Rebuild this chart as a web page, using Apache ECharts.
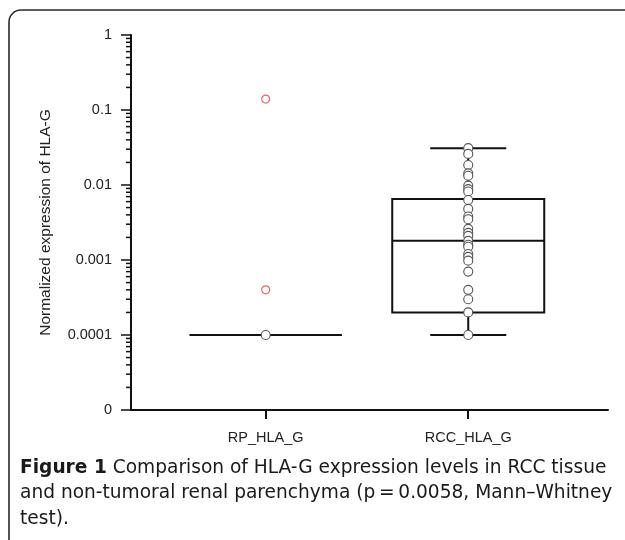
<!DOCTYPE html>
<html><head><meta charset="utf-8">
<script src="https://cdn.jsdelivr.net/npm/echarts@6/dist/echarts.min.js"></script>
<style>html,body{margin:0;padding:0;background:#fff}#c{width:625px;height:540px}</style>
</head><body><div id="c"></div>
<script>
// ---- data ----
const categories = ['RP_HLA_G', 'RCC_HLA_G'];
const yTickValues = [0.00001, 0.0001, 0.001, 0.01, 0.1, 1];
const yTickLabels = ['0', '0.0001', '0.001', '0.01', '0.1', '1'];
const yAxisName = 'Normalized expression of HLA-G';
// [min, Q1, median, Q3, max] per category
const rpBox = [0.0001, 0.0001, 0.0001, 0.0001, 0.0001];
const rccBox = [0.0001, 0.0002, 0.0018, 0.0065, 0.031];
const rpPoints = [0.0001];
const rpOutliers = [0.14, 0.0004];
const rccPoints = [0.031, 0.026, 0.0185, 0.0143, 0.0133, 0.0098, 0.0088, 0.0082, 0.0063,
  0.0048, 0.0038, 0.0035, 0.0026, 0.0023, 0.0021, 0.0018, 0.0016, 0.0015, 0.0012, 0.0011,
  0.00098, 0.0007, 0.0004, 0.0003, 0.0002, 0.0001];
const minorDecades = [0.00001, 0.0001, 0.001, 0.01, 0.1];
const minorMultipliers = [2, 3, 4, 5, 6, 7, 8, 9];
const captionBold = 'Figure 1';
const captionLines = [
  ' Comparison of HLA-G expression levels in RCC tissue',
  'and non-tumoral renal parenchyma (p\u2009=\u20090.0058, Mann\u2013Whitney',
  'test).'
];

// ---- chart ----
const X_MIN = -0.665, X_MAX = 1.69;
const minorTickData = [];
minorDecades.forEach(d => minorMultipliers.forEach(m => minorTickData.push([X_MIN, +(d * m).toPrecision(3)])));

const axisFont = 'Liberation Sans, Arial, sans-serif';
const capFont = 'DejaVu Sans, sans-serif';
const ink = '#111';

const chart = echarts.init(document.getElementById('c'), null, {renderer: 'canvas'});
chart.setOption({
  animation: false,
  backgroundColor: '#fff',
  grid: {left: 131, right: 17, top: 35, bottom: 130, containLabel: false},
  xAxis: {
    type: 'value', min: X_MIN, max: X_MAX,
    axisLine: {show: true, onZero: false, lineStyle: {color: ink, width: 2}},
    axisTick: {show: true, customValues: [0, 1], length: 9, lineStyle: {color: ink, width: 2}},
    axisLabel: {show: true, customValues: [0, 1], formatter: v => categories[Math.round(v)],
      fontSize: 14.5, fontFamily: axisFont, color: '#222', margin: 20},
    splitLine: {show: false}
  },
  yAxis: {
    type: 'log', logBase: 10, min: 0.00001, max: 1,
    name: yAxisName, nameLocation: 'middle', nameGap: 77, nameRotate: 90,
    nameTextStyle: {fontSize: 15.5, fontFamily: axisFont, color: '#222'},
    axisLine: {show: true, onZero: false, lineStyle: {color: ink, width: 2}},
    axisTick: {show: true, length: 10, lineStyle: {color: ink, width: 1.5}},
    axisLabel: {fontSize: 14.5, fontFamily: axisFont, color: '#222', margin: 19,
      formatter: v => {
        const i = yTickValues.findIndex(t => Math.abs(Math.log10(t) - Math.log10(v)) < 1e-6);
        return i >= 0 ? yTickLabels[i] : '';
      }},
    splitLine: {show: false}
  },
  series: [
    {
      type: 'custom', name: 'minorTicks', clip: false, silent: true, z: 3,
      data: minorTickData, encode: {x: 0, y: 1},
      renderItem: (params, api) => {
        const p = api.coord([api.value(0), api.value(1)]);
        return {type: 'line', shape: {x1: p[0] - 5, y1: p[1], x2: p[0], y2: p[1]},
          style: {stroke: ink, lineWidth: 1.5}};
      }
    },
    {
      type: 'custom', name: 'box', clip: false, silent: true, z: 4,
      data: [[0].concat(rpBox), [1].concat(rccBox)], encode: {x: 0, y: 1},
      renderItem: (params, api) => {
        const x = api.value(0);
        const c = i => api.coord([x, api.value(i)]);
        const pMin = c(1), pQ1 = c(2), pMed = c(3), pQ3 = c(4), pMax = c(5);
        const cx = pMin[0], hw = 76, cw = 38;
        const st = {stroke: ink, lineWidth: 2, fill: 'transparent'};
        return {type: 'group', children: [
          {type: 'line', shape: {x1: cx, y1: pQ1[1], x2: cx, y2: pMin[1]}, style: st},
          {type: 'line', shape: {x1: cx, y1: pQ3[1], x2: cx, y2: pMax[1]}, style: st},
          {type: 'line', shape: {x1: cx - cw, y1: pMin[1], x2: cx + cw, y2: pMin[1]}, style: st},
          {type: 'line', shape: {x1: cx - cw, y1: pMax[1], x2: cx + cw, y2: pMax[1]}, style: st},
          {type: 'rect', shape: {x: cx - hw, y: pQ3[1], width: 2 * hw, height: pQ1[1] - pQ3[1]}, style: st},
          {type: 'line', shape: {x1: cx - hw, y1: pMed[1], x2: cx + hw, y2: pMed[1]}, style: st}
        ]};
      }
    },
    {
      type: 'scatter', name: 'points', z: 5, symbol: 'circle', symbolSize: 9,
      itemStyle: {color: '#fff', borderColor: '#555', borderWidth: 1.1, opacity: 1},
      data: rpPoints.map(v => [0, v]).concat(rccPoints.map(v => [1, v]))
    },
    {
      type: 'scatter', name: 'outliers', z: 5, symbol: 'circle', symbolSize: 8,
      itemStyle: {color: '#fff', borderColor: '#e06a6a', borderWidth: 1.2, opacity: 1},
      data: rpOutliers.map(v => [0, v])
    }
  ],
  graphic: [
    {type: 'rect', silent: true, z: 1,
      shape: {x: 9, y: 10, width: 700, height: 600, r: 12},
      style: {fill: 'transparent', stroke: '#2a2a2a', lineWidth: 1.6}},
    {type: 'text', left: 20, top: 455, silent: true, z: 2,
      style: {
        text: '{b|' + captionBold + '}' + captionLines.join('\n'),
        fontFamily: capFont, fontSize: 18.6, lineHeight: 25.6, fill: '#1a1a1a',
        rich: {b: {fontWeight: 'bold', fontFamily: capFont, fontSize: 18.6, lineHeight: 25.6, fill: '#1a1a1a'}}
      }}
  ]
});
</script></body></html>
